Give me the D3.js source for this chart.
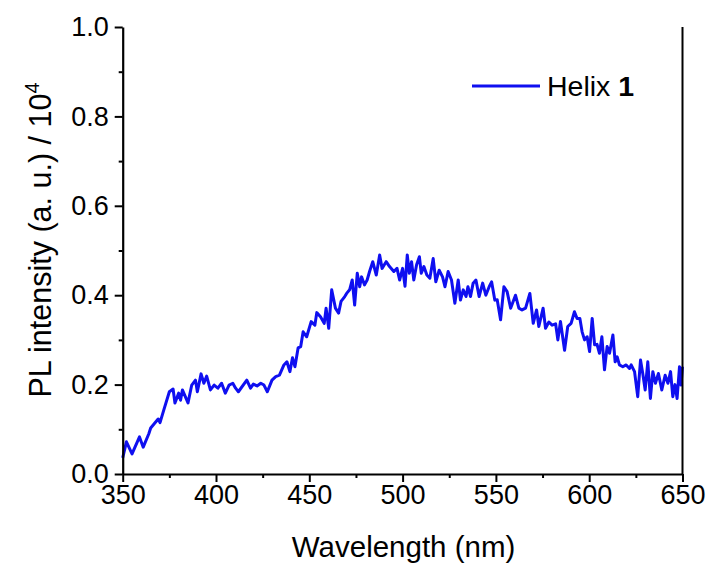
<!DOCTYPE html>
<html>
<head>
<meta charset="utf-8">
<script src="https://cdn.jsdelivr.net/npm/d3@7/dist/d3.min.js"></script>
<style>
  html, body { margin: 0; padding: 0; background: #fff; }
  svg { display: block; font-family: "Liberation Sans", Arial, sans-serif; }
</style>
</head>
<body>
<svg id="chart" width="708" height="565"></svg>
<script>
// Wavelength (nm) and PL intensity (/10^4)
const wavelength = [350,352,355,359,361,364,365,369,370,372,375,377,378,380,381,382,385,387,389,390,392,393.5,395,397,
  399,401,403,405,407,409,410.5,412,416.5,418.5,420,422,424,425.7,427.5,430,432,434,436.4,438,439.6,441,442.3,444,445.4,446.7,448.6,
  451,453,454,456,458,459,460.4,462,464,465.7,467,469,470,471.6,473,474.3,475.7,477,478,479.6,481,482.3,484,485.9,487.7,489,491.2,493,495.3,497,498.4,
  500,501.3,502.5,503.6,504.8,506,507.5,509,510,511.4,513,514.6,516.4,517.8,519.6,521.4,522.7,524.4,526.2,528,529.8,531,532.5,534,535,536.4,537.8,539.3,541,542.9,544.6,546.4,547.7,549.4,550.7,
  552.5,554.3,556,557.9,560.5,562.3,564,565.9,568.2,570,571.8,573,575.3,576.6,578.4,580.1,582,583.2,584.6,586.8,588.5,590.3,592.1,593.5,595,596.2,597.5,598.9,600.2,
  601.6,602.9,604.2,605.5,606.8,608.2,609.6,610.9,612.7,613.9,615,616.2,618,619.8,621.6,622.5,624.3,626,627.5,628.7,630,631.4,632.8,634.1,635.5,637.1,638.9,640.7,642.2,643.6,644.8,646,647.1,648.4,649.2,650];
const intensity = [0.036,0.072,0.045,0.083,0.060,0.090,0.103,0.123,0.115,0.143,0.184,0.190,0.159,0.181,0.165,0.188,0.159,0.199,0.210,0.184,0.224,0.203,0.219,0.188,
  0.199,0.192,0.203,0.181,0.199,0.203,0.192,0.184,0.210,0.192,0.201,0.197,0.203,0.199,0.184,0.210,0.218,0.221,0.244,0.251,0.229,0.260,0.240,0.282,0.285,0.318,0.307,
  0.341,0.333,0.361,0.352,0.337,0.371,0.326,0.412,0.371,0.360,0.386,0.397,0.404,0.412,0.434,0.378,0.449,0.419,0.441,0.423,0.434,0.453,0.475,0.445,0.490,0.460,0.475,0.464,0.453,0.460,0.434,
  0.460,0.420,0.490,0.449,0.475,0.434,0.468,0.486,0.449,0.464,0.445,0.438,0.482,0.430,0.456,0.441,0.419,0.453,0.434,0.382,0.434,0.389,0.412,0.397,0.419,0.397,0.427,0.434,0.397,0.427,0.400,0.419,0.430,0.389,0.390,
  0.345,0.419,0.408,0.371,0.400,0.371,0.367,0.371,0.404,0.337,0.367,0.330,0.371,0.326,0.340,0.333,0.336,0.300,0.341,0.277,0.330,0.337,0.363,0.348,0.348,0.318,0.300,0.307,0.274,
  0.348,0.289,0.290,0.270,0.307,0.233,0.285,0.270,0.311,0.251,0.262,0.244,0.240,0.244,0.236,0.244,0.229,0.173,0.255,0.225,0.188,0.251,0.169,0.229,0.203,0.225,0.188,0.221,0.203,0.229,0.173,0.200,0.169,0.240,0.199,0.240];
const xTicks = [350,400,450,500,550,600,650];
const xMinorTicks = [375,425,475,525,575,625];
const yTicks = [0.0,0.2,0.4,0.6,0.8,1.0];
const yMinorTicks = [0.1,0.3,0.5,0.7,0.9];
const seriesName = "Helix ";
const seriesBold = "1";

const svg = d3.select("#chart");
const mLeft = 122.7, mRight = 682.5, mTop = 27, mBottom = 474;
const x = d3.scaleLinear().domain([350, 650]).range([mLeft, mRight]);
const y = d3.scaleLinear().domain([0, 1]).range([mBottom, mTop]);

const blue = "#0f0ff0";

// data line
const pts = wavelength.map((w, i) => [w, intensity[i]]);
svg.append("path")
  .datum(pts)
  .attr("fill", "none")
  .attr("stroke", blue)
  .attr("stroke-width", 3)
  .attr("stroke-linejoin", "round")
  .attr("d", d3.line().x(d => x(d[0])).y(d => y(d[1])));

// Right frame line
svg.append("line").attr("x1", mRight).attr("x2", mRight).attr("y1", mTop).attr("y2", mBottom)
  .attr("stroke", "#000").attr("stroke-width", 2);

// x axis
svg.append("g").attr("transform", `translate(0,${mBottom})`)
  .call(d3.axisBottom(x).tickValues(xTicks).tickFormat(d3.format("d")).tickSize(8).tickSizeOuter(0).tickPadding(3));
svg.append("g").attr("transform", `translate(0,${mBottom})`)
  .call(d3.axisBottom(x).tickValues(xMinorTicks).tickFormat("").tickSize(4).tickSizeOuter(0))
  .select(".domain").remove();

// y axis
svg.append("g").attr("transform", `translate(${mLeft},0)`)
  .call(d3.axisLeft(y).tickValues(yTicks).tickFormat(d3.format(".1f")).tickSize(8).tickSizeOuter(0).tickPadding(6));
svg.append("g").attr("transform", `translate(${mLeft},0)`)
  .call(d3.axisLeft(y).tickValues(yMinorTicks).tickFormat("").tickSize(4).tickSizeOuter(0))
  .select(".domain").remove();

svg.selectAll(".domain").attr("stroke", "#000").attr("stroke-width", 2.2);
svg.selectAll(".tick line").attr("stroke", "#000").attr("stroke-width", 2);
svg.selectAll(".tick text").attr("fill", "#000").attr("font-size", 27)
  .attr("font-family", "'Liberation Sans', Arial, sans-serif");

// axis titles
svg.append("text").attr("x", (mLeft + mRight) / 2 + 1).attr("y", 557)
  .attr("text-anchor", "middle").attr("font-size", 29.5).attr("fill", "#000")
  .text("Wavelength (nm)");

const yt = svg.append("text")
  .attr("transform", `translate(51,240) rotate(-90)`)
  .attr("text-anchor", "middle").attr("font-size", 30.5).attr("fill", "#000");
yt.append("tspan").text("PL intensity (a. u.) / 10");
yt.append("tspan").attr("dy", -12).attr("font-size", 20).text("4");

// legend
svg.append("line").attr("x1", 472).attr("x2", 540).attr("y1", 86).attr("y2", 86)
  .attr("stroke", blue).attr("stroke-width", 3);
const lt = svg.append("text").attr("x", 547).attr("y", 96).attr("font-size", 28.5).attr("fill", "#000");
lt.append("tspan").text(seriesName);
lt.append("tspan").attr("font-weight", "bold").text(seriesBold);
</script>
</body>
</html>
